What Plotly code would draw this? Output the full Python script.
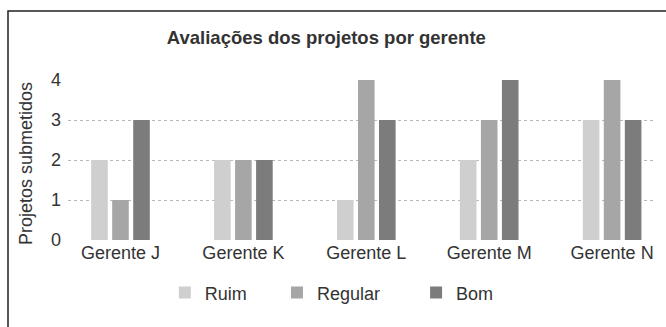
import plotly.graph_objects as go

# Projects submitted per manager, split by rating
gerentes = ["Gerente J", "Gerente K", "Gerente L", "Gerente M", "Gerente N"]
ruim = [2, 2, 1, 2, 3]
regular = [1, 2, 4, 3, 4]
bom = [3, 2, 3, 4, 3]
y_ticks = [0, 1, 2, 3, 4]

series = [
    ("Ruim", ruim, "#cfcfcf", "legend", 0.165),
    ("Regular", regular, "#a6a6a6", "legend2", 0.356),
    ("Bom", bom, "#7c7c7c", "legend3", 0.593),
]

FONT = "Liberation Sans, Arial, sans-serif"
TEXT = "#333333"

fig = go.Figure()
legend_layout = {}
for name, vals, color, leg, lx in series:
    fig.add_trace(go.Bar(
        x=gerentes, y=vals, name=name, legend=leg,
        marker=dict(color=color, line=dict(width=0)),
    ))
    legend_layout[leg] = dict(
        x=lx, y=-0.33, xanchor="left", yanchor="middle",
        orientation="h", bgcolor="rgba(0,0,0,0)",
        font=dict(family=FONT, size=18, color=TEXT),
    )

fig.update_layout(
    width=666, height=327,
    margin=dict(l=68, r=11, t=80, b=87),
    paper_bgcolor="white", plot_bgcolor="white",
    barmode="group", bargap=0.487, bargroupgap=0.21,
    title=dict(
        text="<b>Avaliações dos projetos por gerente</b>",
        x=0.49, xref="container", xanchor="center",
        y=1 - 38 / 327, yref="container", yanchor="middle",
        font=dict(family=FONT, size=18.5, color="#333333"),
    ),
    xaxis=dict(
        range=[-0.427, 4.349], showgrid=False, zeroline=False,
        showline=False, ticks="",
        tickfont=dict(family=FONT, size=18, color=TEXT),
    ),
    yaxis=dict(
        range=[0, 4], tickvals=y_ticks, showgrid=True,
        gridcolor="#b8b8b8", griddash="dot", gridwidth=1,
        zeroline=False, showline=False, ticks="",
        ticklabelstandoff=6,
        tickfont=dict(family=FONT, size=18, color=TEXT),
    ),
    annotations=[dict(
        text="Projetos submetidos", textangle=-90,
        xref="paper", yref="paper", x=(26 - 68) / 587, y=(240 - 164) / 160,
        xanchor="center", yanchor="middle", showarrow=False,
        font=dict(family=FONT, size=18, color=TEXT),
    )],
    shapes=[dict(
        type="rect", xref="paper", yref="paper",
        x0=(8 - 68) / 587, x1=(680 - 68) / 587,
        y0=(240 - 340) / 160, y1=(240 - 11) / 160,
        line=dict(color="#222222", width=1.5), fillcolor="rgba(0,0,0,0)",
        layer="below",
    )],
    showlegend=True,
    **legend_layout,
)

fig.write_html("out.html")
